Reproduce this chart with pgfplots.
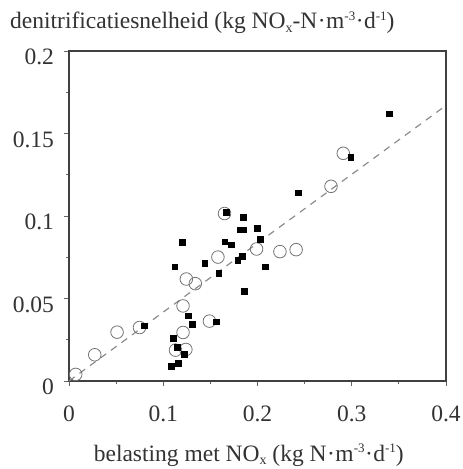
\documentclass[border=0pt]{standalone}
\usepackage{fontspec}
\setmainfont{Liberation Serif}
\usepackage{pgfplots}
\pgfplotsset{compat=1.18}
\usepackage{pgfplotstable}
\newcommand\sps[1]{\raisebox{0.75ex}{\fontsize{13}{13}\selectfont #1}}
\newcommand\sbs[1]{\raisebox{-0.35ex}{\fontsize{14}{14}\selectfont #1}}
\newcommand\cd{\kern0.5pt·\kern0.5pt}

\pgfplotstableread{
x y
0.340 0.162
0.299 0.1355
0.243 0.114
0.1667 0.1023
0.185 0.0993
0.181 0.0917
0.185 0.0917
0.1997 0.0926
0.203 0.0858
0.120 0.084
0.165 0.0844
0.172 0.0826
0.184 0.0757
0.179 0.0731
0.208 0.0693
0.112 0.0693
0.144 0.0713
0.159 0.0655
0.186 0.0544
0.156 0.0359
0.1266 0.0395
0.131 0.0344
0.0798 0.0334
0.1106 0.0258
0.115 0.0204
0.122 0.0163
0.116 0.0107
0.1085 0.0089
}\squares

\pgfplotstableread{
x y
0.291 0.138
0.278 0.118
0.165 0.1015
0.199 0.080
0.2238 0.0784
0.241 0.0796
0.158 0.0751
0.1245 0.0618
0.134 0.059
0.121 0.0455
0.149 0.0363
0.0748 0.0324
0.051 0.0296
0.121 0.0294
0.0273 0.0159
0.113 0.0187
0.124 0.0191
0.0071 0.004
}\circles

\begin{document}
\fontsize{23.5}{27}\selectfont
\begin{tikzpicture}
\useasboundingbox (-69pt,-88pt) rectangle (394pt,381pt);
\begin{axis}[
  scale only axis,
  width=377pt, height=330pt,
  xmin=0, xmax=0.4, ymin=0, ymax=0.2,
  xtick={0,0.1,...,0.4},
  ytick={0,0.05,...,0.2},
  minor x tick num=1,
  minor y tick num=1,
  tick pos=left,
  tick align=outside,
  major tick length=5pt,
  minor tick length=3pt,
  scaled ticks=false,
  tick label style={font=\fontsize{23.5}{27}\selectfont, text=black!80},
  /pgf/number format/assume math mode=true,
  /pgf/number format/fixed,
  yticklabel style={yshift=-6pt, xshift=-2pt},
  xticklabel style={yshift=-12pt},
  axis line style={draw=black!75, line width=1.1pt},
  every tick/.style={draw=black!60, line width=0.8pt},
  every axis x label/.style={at={(axis description cs:0.477,0)}, anchor=base, yshift=-80pt},
  every axis y label/.style={at={(axis description cs:0,1)}, anchor=base west, inner sep=0pt, xshift=-59pt, yshift=22pt},
  xlabel={belasting met NO\sbs{x} (kg N\cd m\sps{-3}\cd d\sps{-1})},
  ylabel={denitrificatiesnelheid (kg NO\sbs{x}-N\cd m\sps{-3}\cd d\sps{-1})},
  label style={font=\fontsize{23.5}{27}\selectfont, text=black!80},
  clip=false,
]
\addplot[draw=black!45, line width=1.2pt, dash pattern=on 7pt off 6pt] coordinates {(0,0) (0.4,0.167)};
\addplot[only marks, mark=o, mark size=6.3pt, mark options={draw=black!55, line width=0.8pt}] table[x=x,y=y] {\circles};
\addplot[only marks, mark=square*, mark size=2.8pt, mark options={draw=black, fill=black}] table[x=x,y=y] {\squares};
\end{axis}
\end{tikzpicture}
\end{document}
